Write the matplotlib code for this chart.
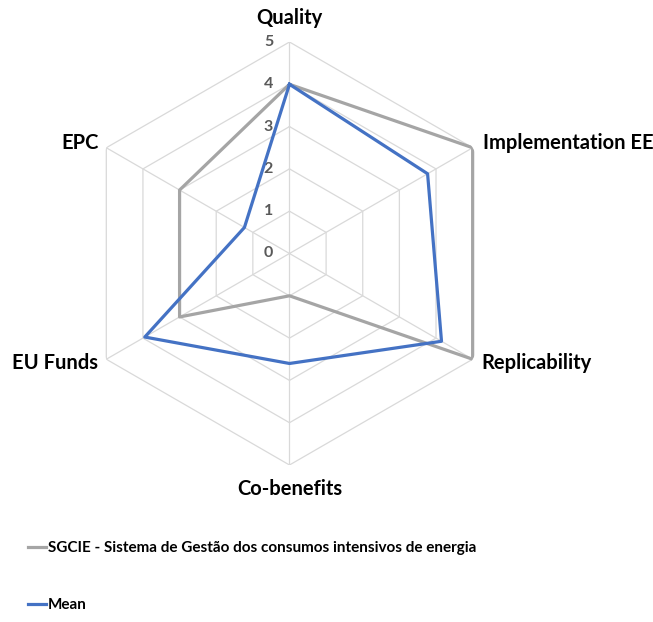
import numpy as np
import matplotlib
matplotlib.use("Agg")
from matplotlib import pyplot as plt

# Dados
categorias = ["Quality", "Implementation EE", "Replicability", "Co-benefits", "EU Funds", "EPC"]
sgcie = [4, 5, 5, 1, 3, 3]
media = [4, 3.77, 4.15, 2.6, 3.95, 1.23]
niveis = [0, 1, 2, 3, 4, 5]
nome_sgcie = "SGCIE - Sistema de Gestão dos consumos intensivos de energia"
nome_media = "Mean"

plt.rcParams['font.family'] = ['Lato', 'DejaVu Sans']

fig = plt.figure(figsize=(6.53, 6.22), dpi=100)
ax = fig.add_axes([0.1194, 0.2524, 0.6478, 0.6801], projection='polar')
ax.set_theta_zero_location('N')
ax.set_theta_direction(-1)

n = len(categorias)
ang = np.linspace(0, 2*np.pi, n, endpoint=False)
ang_f = np.append(ang, ang[0])

# Grade hexagonal
for r in niveis[1:]:
    ax.plot(ang_f, [r]*(n+1), color='#d9d9d9', lw=0.9, zorder=1)
for a in ang:
    ax.plot([a, a], [0, niveis[-1]], color='#d9d9d9', lw=0.9, zorder=1)

# Series
ax.plot(ang_f, sgcie + sgcie[:1], color='#a5a5a5', lw=2.3, label=nome_sgcie, zorder=3)
ax.plot(ang_f, media + media[:1], color='#4472c4', lw=2.3, label=nome_media, zorder=4)

ax.set_ylim(0, 5)
ax.grid(False)
ax.spines['polar'].set_visible(False)
ax.set_xticks([])
ax.set_yticks([])

# Rotulos das categorias
desloc = [(0, 24, 'center'), (10, 5, 'left'), (9, -4, 'left'),
          (0, -24, 'center'), (-8, -4, 'right'), (-8, 5, 'right')]
for a, nome, (dx, dy, ha) in zip(ang, categorias, desloc):
    ax.annotate(nome, xy=(a, niveis[-1]), xytext=(dx, dy), textcoords='offset pixels',
                ha=ha, va='center', fontsize=14.5, fontweight='bold', color='black',
                annotation_clip=False)

# Rotulos radiais
for r in niveis:
    ax.annotate(str(r), xy=(0, r), xytext=(-21, 0), textcoords='offset pixels',
                ha='center', va='center', fontsize=11.5, fontweight='bold', color='#595959',
                annotation_clip=False)

fig.legend(loc='upper left', bbox_to_anchor=(0.022, 0.152), frameon=False,
           handlelength=1.2, handletextpad=0.1, labelspacing=2.8,
           prop={'weight': 'bold', 'size': 11})

plt.savefig('out.png', dpi=100)
